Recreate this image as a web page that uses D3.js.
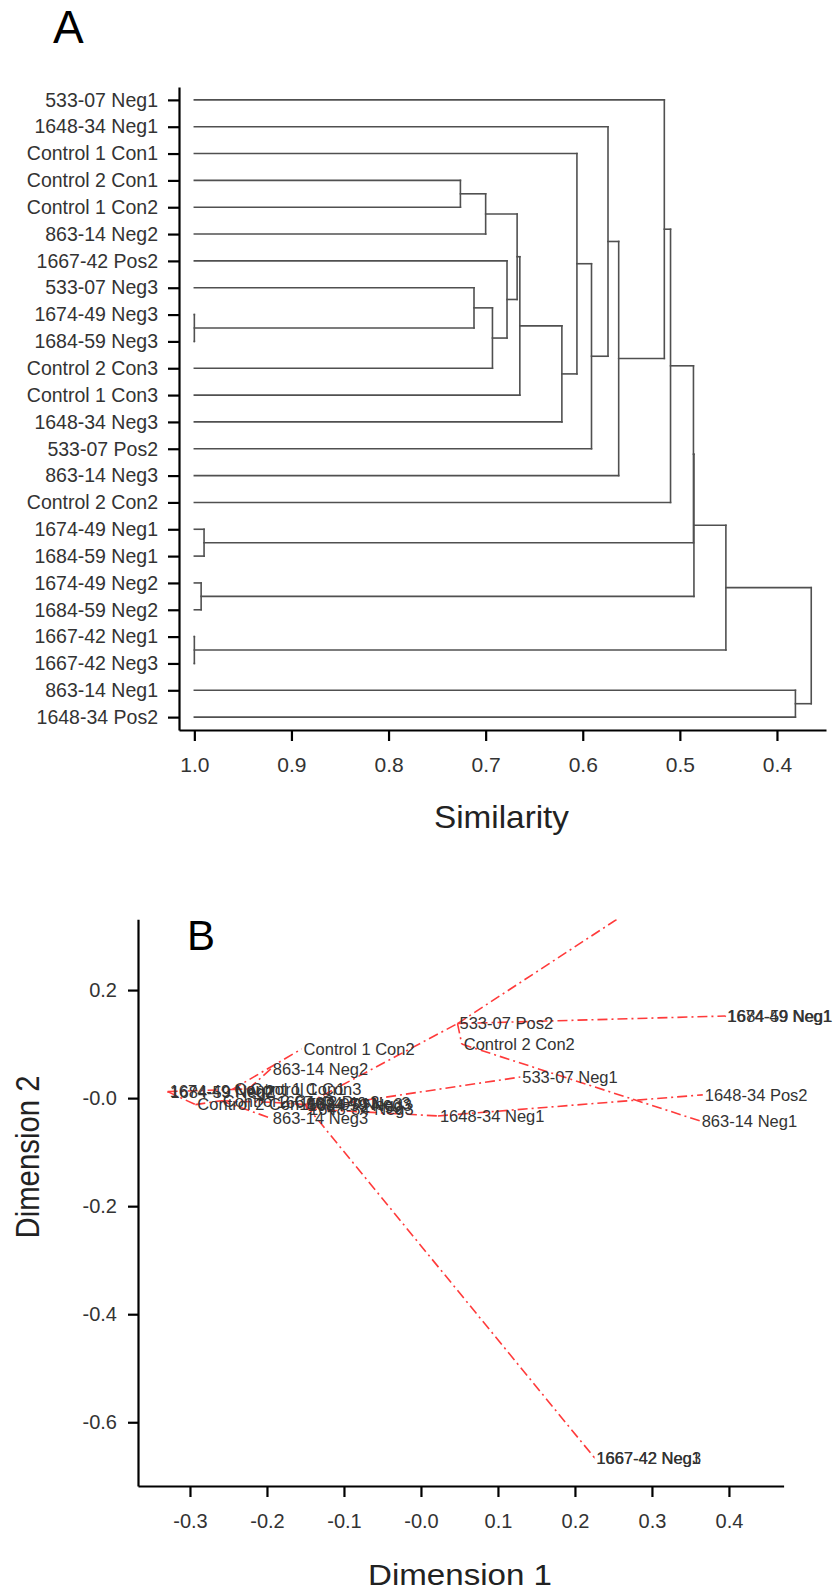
<!DOCTYPE html>
<html><head><meta charset="utf-8">
<script src="https://cdn.jsdelivr.net/npm/d3@7"></script>
<style>body{margin:0;background:#fff}</style>
</head><body><svg id="c" width="839" height="1591" style="display:block;background:#fff"></svg>
<script>
// ---------- Panel A: dendrogram data ----------
const leafNames = ["533-07 Neg1","1648-34 Neg1","Control 1 Con1","Control 2 Con1","Control 1 Con2","863-14 Neg2","1667-42 Pos2","533-07 Neg3","1674-49 Neg3","1684-59 Neg3","Control 2 Con3","Control 1 Con3","1648-34 Neg3","533-07 Pos2","863-14 Neg3","Control 2 Con2","1674-49 Neg1","1684-59 Neg1","1674-49 Neg2","1684-59 Neg2","1667-42 Neg1","1667-42 Neg3","863-14 Neg1","1648-34 Pos2"];
const mergeA = ["Control 2 Con1","m1","1674-49 Neg3","533-07 Neg3","m4","1667-42 Pos2","m2","m7","m8","Control 1 Con1","m10","1648-34 Neg1","m12","533-07 Neg1","m14","1674-49 Neg1","1674-49 Neg2","m15","m18","1667-42 Neg1","m19","863-14 Neg1","m21"];
const mergeB = ["Control 1 Con2","863-14 Neg2","1684-59 Neg3","m3","Control 2 Con3","m5","m6","Control 1 Con3","1648-34 Neg3","m9","533-07 Pos2","m11","863-14 Neg3","m13","Control 2 Con2","1684-59 Neg1","1684-59 Neg2","m16","m17","1667-42 Neg3","m20","1648-34 Pos2","m22"];
const mergeSim = [0.726,0.700,1.0,0.712,0.693,0.678,0.6676,0.6648,0.6215,0.606,0.591,0.574,0.563,0.516,0.5096,0.990,0.993,0.486,0.4855,1.0,0.4526,0.381,0.3647];
const simTicks = [1.0,0.9,0.8,0.7,0.6,0.5,0.4];
const simTickLabels = ["1.0","0.9","0.8","0.7","0.6","0.5","0.4"];

// ---------- Panel B: MDS data ----------
const mdsNames = ["533-07 Neg1","1648-34 Neg1","Control 1 Con1","Control 2 Con1","Control 1 Con2","863-14 Neg2","1667-42 Pos2","533-07 Neg3","1674-49 Neg3","1684-59 Neg3","Control 2 Con3","Control 1 Con3","1648-34 Neg3","533-07 Pos2","863-14 Neg3","Control 2 Con2","1674-49 Neg1","1684-59 Neg1","1674-49 Neg2","1684-59 Neg2","1667-42 Neg1","1667-42 Neg3","863-14 Neg1","1648-34 Pos2",""];
const dim1 = [0.129,0.022,-0.245,-0.293,-0.155,-0.195,-0.19,-0.150,-0.152,-0.150,-0.26,-0.224,-0.148,0.0475,-0.195,0.053,0.395,0.396,-0.329,-0.328,0.225,0.2255,0.362,0.366,0.35];
const dim2 = [0.039,-0.033,0.016,-0.012,0.091,0.054,-0.008,-0.012,-0.010,-0.013,-0.005,0.017,-0.020,0.138,-0.037,0.100,0.152,0.151,0.012,0.011,-0.666,-0.666,-0.042,0.006,0.42];
const edgeFrom = ["1674-49 Neg2","1674-49 Neg2","1674-49 Neg2","Control 2 Con1","Control 1 Con1","Control 1 Con1","Control 1 Con3","Control 2 Con3","1667-42 Pos2","Control 2 Con3","533-07 Neg3","533-07 Neg3","533-07 Neg3","533-07 Neg3","1648-34 Neg3","1648-34 Neg3","533-07 Neg3","1667-42 Neg1","533-07 Pos2","533-07 Pos2","1674-49 Neg1","Control 2 Con2","1648-34 Neg1","533-07 Pos2"];
const edgeTo = ["1684-59 Neg2","Control 2 Con1","Control 1 Con1","Control 2 Con3","Control 1 Con3","Control 1 Con2","863-14 Neg2","1667-42 Pos2","533-07 Neg3","863-14 Neg3","1674-49 Neg3","1684-59 Neg3","1648-34 Neg3","533-07 Pos2","533-07 Neg1","1648-34 Neg1","1667-42 Neg3","1667-42 Neg3","Control 2 Con2","1674-49 Neg1","1684-59 Neg1","863-14 Neg1","1648-34 Pos2",""];
const dim1Ticks = [-0.3,-0.2,-0.1,0.0,0.1,0.2,0.3,0.4];
const dim1TickLabels = ["-0.3","-0.2","-0.1","-0.0","0.1","0.2","0.3","0.4"];
const dim2Ticks = [0.2,0.0,-0.2,-0.4,-0.6];
const dim2TickLabels = ["0.2","-0.0","-0.2","-0.4","-0.6"];

const FONT = "'Liberation Sans', Arial, Helvetica, sans-serif";
const svg = d3.select("#c");

function styleAxis(g, fs, color) {
  g.attr("font-family", FONT).attr("font-size", fs);
  g.select(".domain").attr("stroke", "#000").attr("stroke-width", 2.2);
  g.selectAll(".tick line").attr("stroke", "#000").attr("stroke-width", 2.2);
  g.selectAll(".tick text").attr("fill", color);
}

// ================= Panel A =================
svg.append("text").attr("x", 53).attr("y", 43).attr("font-family", FONT)
  .attr("font-size", 46).attr("fill", "#000").text("A");

const xA = d3.scaleLinear().domain([1.0158, 0.3495]).range([179, 826]);
const yA = d3.scalePoint().domain(leafNames).range([87, 730]).padding(0.48);

const nodes = {};
leafNames.forEach(n => nodes[n] = {x: xA(1.0), y: yA(n)});
const segs = [];
mergeSim.forEach((s, i) => {
  const a = nodes[mergeA[i]], b = nodes[mergeB[i]];
  const px = xA(s);
  segs.push([a.x, a.y, px, a.y], [b.x, b.y, px, b.y], [px, a.y, px, b.y]);
  nodes["m" + (i + 1)] = {x: px, y: (a.y + b.y) / 2};
});
svg.append("g").selectAll("line").data(segs).join("line")
  .attr("x1", d => d[0]).attr("y1", d => d[1]).attr("x2", d => d[2]).attr("y2", d => d[3])
  .attr("stroke", "#505050").attr("stroke-width", 1.6).attr("stroke-linecap", "square");

const axA_left = svg.append("g").attr("transform", "translate(179,0)")
  .call(d3.axisLeft(yA).tickSize(11).tickSizeOuter(0).tickPadding(10));
styleAxis(axA_left, 19.5, "#333");

const axA_bottom = svg.append("g").attr("transform", "translate(0,730)")
  .call(d3.axisBottom(xA).tickValues(simTicks).tickFormat((d, i) => simTickLabels[i])
    .tickSize(11).tickSizeOuter(0).tickPadding(16.5));
styleAxis(axA_bottom, 21, "#333");

svg.append("text").attr("x", 501.5).attr("y", 828).attr("text-anchor", "middle")
  .attr("font-family", FONT).attr("font-size", 32).attr("fill", "#222")
  .attr("textLength", 135).attr("lengthAdjust", "spacingAndGlyphs").text("Similarity");

// ================= Panel B =================
const xB = d3.scaleLinear().domain([-0.3675, 0.471]).range([138, 783.6]);
const yB = d3.scaleLinear().domain([-0.718, 0.331]).range([1486, 919.3]);

svg.append("defs").append("clipPath").attr("id", "clipB")
  .append("rect").attr("x", 138).attr("y", 919.3).attr("width", 645.6).attr("height", 566.7);

const pts = {};
mdsNames.forEach((n, i) => pts[n] = {x: xB(dim1[i]), y: yB(dim2[i])});

svg.append("g").attr("clip-path", "url(#clipB)").selectAll("line")
  .data(edgeFrom.map((f, i) => [pts[f], pts[edgeTo[i]]])).join("line")
  .attr("x1", d => d[0].x).attr("y1", d => d[0].y)
  .attr("x2", d => d[1].x).attr("y2", d => d[1].y)
  .attr("stroke", "#ff3a3a").attr("stroke-width", 1.6)
  .attr("stroke-dasharray", "10,4,2,4");

svg.append("g").selectAll("text")
  .data(mdsNames.map((n, i) => ({n, i})).filter(d => d.n !== "")).join("text")
  .attr("x", d => xB(dim1[d.i]) + 2).attr("y", d => yB(dim2[d.i]))
  .attr("dy", "0.35em").attr("font-family", FONT).attr("font-size", 16.5)
  .attr("fill", "#333").text(d => d.n);

const axB_left = svg.append("g").attr("transform", "translate(138,0)")
  .call(d3.axisLeft(yB).tickValues(dim2Ticks).tickFormat((d, i) => dim2TickLabels[i])
    .tickSize(10).tickSizeOuter(0).tickPadding(11));
styleAxis(axB_left, 20, "#333");

const axB_bottom = svg.append("g").attr("transform", "translate(0,1486)")
  .call(d3.axisBottom(xB).tickValues(dim1Ticks).tickFormat((d, i) => dim1TickLabels[i])
    .tickSize(11).tickSizeOuter(0).tickPadding(16.5));
styleAxis(axB_bottom, 20, "#333");

svg.append("text").attr("x", 187).attr("y", 950).attr("font-family", FONT)
  .attr("font-size", 42).attr("fill", "#000").text("B");

svg.append("text").attr("x", 460).attr("y", 1585).attr("text-anchor", "middle")
  .attr("font-family", FONT).attr("font-size", 29).attr("fill", "#222")
  .attr("textLength", 184).attr("lengthAdjust", "spacingAndGlyphs").text("Dimension 1");

svg.append("text").attr("transform", "translate(39,1157) rotate(-90)")
  .attr("text-anchor", "middle").attr("font-family", FONT).attr("font-size", 34)
  .attr("fill", "#222").attr("textLength", 163).attr("lengthAdjust", "spacingAndGlyphs")
  .text("Dimension 2");
</script>
</body></html>
